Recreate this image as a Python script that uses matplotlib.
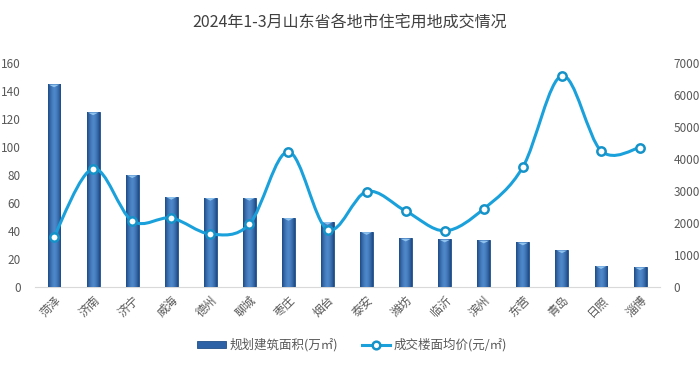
import matplotlib
matplotlib.use("Agg")
import matplotlib.pyplot as plt
import numpy as np
from matplotlib.path import Path
from matplotlib.patches import PathPatch, Patch
from matplotlib.lines import Line2D
from matplotlib.colors import LinearSegmentedColormap

plt.rcParams['font.family'] = ['Noto Sans CJK SC', 'DejaVu Sans']

cities = ["菏泽", "济南", "济宁", "威海", "德州", "聊城", "枣庄", "烟台",
          "泰安", "潍坊", "临沂", "滨州", "东营", "青岛", "日照", "淄博"]
area = [145, 125, 80, 64.5, 63.8, 63.8, 49.4, 46.6,
        39.3, 34.6, 33.9, 33.2, 31.8, 26.2, 14.9, 14.0]
price = [1570, 3700, 2060, 2150, 1650, 1960, 4230, 1790,
         2980, 2370, 1750, 2440, 3750, 6610, 4260, 4360]
left_ticks = [0, 20, 40, 60, 80, 100, 120, 140, 160]
right_ticks = [0, 1000, 2000, 3000, 4000, 5000, 6000, 7000]
title = "2024年1-3月山东省各地市住宅用地成交情况"
bar_label = "规划建筑面积(万㎡)"
line_label = "成交楼面均价(元/㎡)"

TXT = "#595959"
LINE_C = "#1AA1DB"

fig = plt.figure(figsize=(7, 3.68), dpi=100)
ax = fig.add_axes([0.0493, 0.221, 0.893, 0.607])
ax2 = ax.twinx()

x = np.arange(len(cities))
bw = 0.33
bars = ax.bar(x, area, width=bw, color="#2E62A6", edgecolor="#1F4E89",
              linewidth=0.6, zorder=2)
grad = np.linspace(-1, 1, 64)
grad = 1 - np.abs(grad) ** 1.5
grad = np.vstack([grad, grad])
cmap = LinearSegmentedColormap.from_list("b", ["#1D4A86", "#4F88CA"])
for b in bars:
    x0, w, h = b.get_x(), b.get_width(), b.get_height()
    im = ax.imshow(grad, extent=[x0, x0 + w, 0, h], aspect="auto",
                   cmap=cmap, zorder=3, origin="lower")
    im.set_clip_path(b)
    ax.fill([x0 + w * 0.1, x0 + w * 0.9, x0 + w * 0.5],
            [h - 0.3, h - 0.3, h - 2.2], color="#8FC3EE", zorder=4, lw=0)

ax.set_xlim(-0.5, len(cities) - 0.5)
ax.set_ylim(0, 160)
ax.set_yticks(left_ticks)
ax.set_xticks(x)
ax.set_xticklabels(cities, rotation=45, ha="right", va="top",
                   rotation_mode="anchor", fontsize=8.5, color=TXT)
ax.tick_params(axis="both", length=0, labelsize=8.5, labelcolor=TXT)
ax.tick_params(axis="y", pad=10)
ax.tick_params(axis="x", pad=5)
for s in ["top", "left", "right"]:
    ax.spines[s].set_visible(False)
ax.spines["bottom"].set_color("#D9D9D9")

px = x.astype(float)
py = np.array(price, dtype=float)
n = len(px)
verts = [(px[0], py[0])]
codes = [Path.MOVETO]
for i in range(n - 1):
    p0 = np.array([px[max(i - 1, 0)], py[max(i - 1, 0)]])
    p1 = np.array([px[i], py[i]])
    p2 = np.array([px[i + 1], py[i + 1]])
    p3 = np.array([px[min(i + 2, n - 1)], py[min(i + 2, n - 1)]])
    c1 = p1 + (p2 - p0) / 6
    c2 = p2 - (p3 - p1) / 6
    verts += [tuple(c1), tuple(c2), tuple(p2)]
    codes += [Path.CURVE4] * 3
ax2.add_patch(PathPatch(Path(verts, codes), fill=False, edgecolor=LINE_C,
                        lw=2.2, zorder=3, capstyle="round"))
ax2.plot(px, py, linestyle="none", marker="o", ms=6, mfc="white",
         mec="#1593C8", mew=1.8, zorder=4)
ax2.set_ylim(0, 7000)
ax2.set_yticks(right_ticks)
ax2.tick_params(axis="y", length=0, labelsize=8.5, labelcolor=TXT, pad=10)
for s in ["top", "left", "right", "bottom"]:
    ax2.spines[s].set_visible(False)

fig.text(0.5, 0.937, title, ha="center", va="center", fontsize=11.5,
         color="#404040")

handles = [Patch(facecolor="#2E62A6", edgecolor="#1F4E89", lw=0.6),
           Line2D([0], [0], color=LINE_C, lw=2.2, marker="o", ms=5.5,
                  mfc="white", mec="#1593C8", mew=1.8)]
fig.legend(handles, [bar_label, line_label], loc="center",
           bbox_to_anchor=(0.503, 0.0625), ncol=2, frameon=False,
           fontsize=9, labelcolor=TXT, handlelength=2.3, handleheight=0.5,
           columnspacing=1.9, handletextpad=0.3)

fig.savefig("out.png", dpi=100)
